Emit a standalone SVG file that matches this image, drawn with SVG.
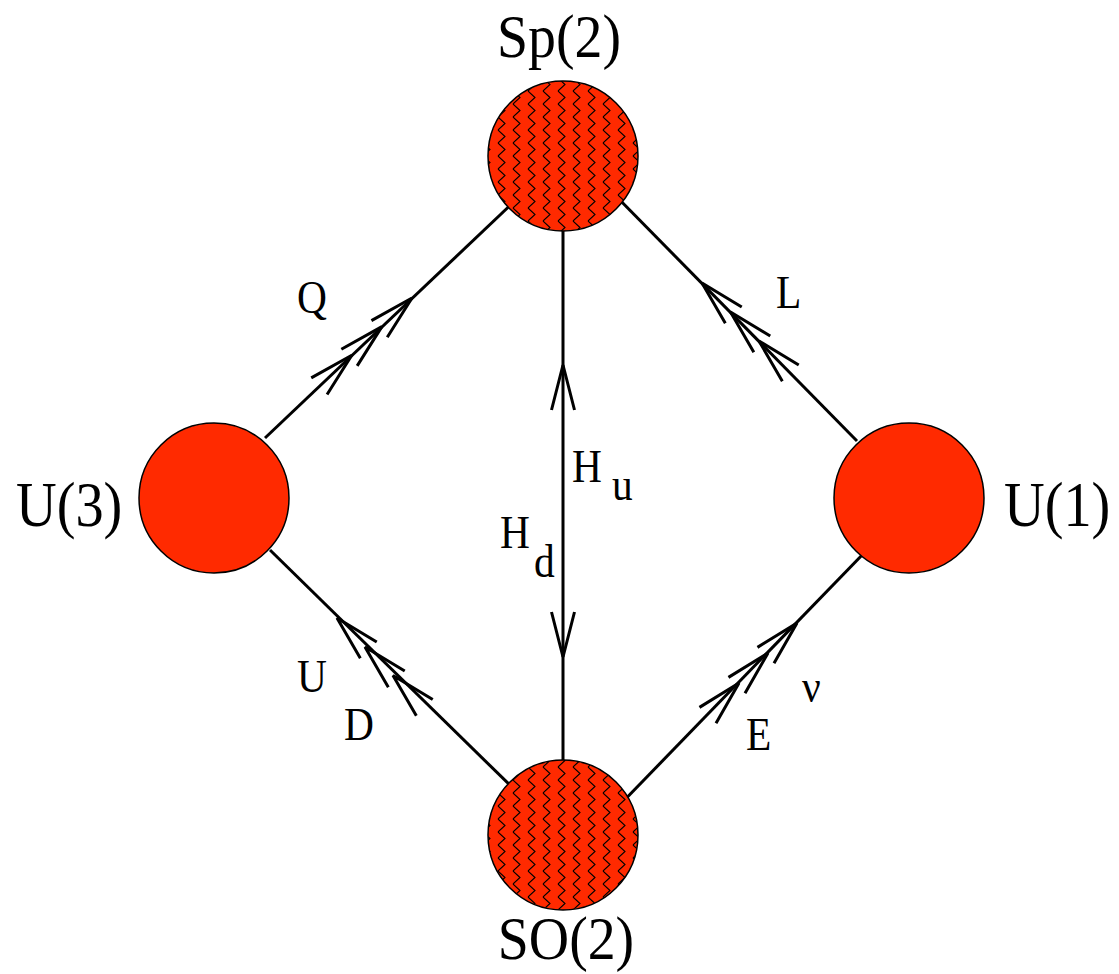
<svg xmlns="http://www.w3.org/2000/svg" xmlns:xlink="http://www.w3.org/1999/xlink" width="1119" height="974" viewBox="0 0 1119 974">
<style>
.big{font-family:"Liberation Serif","Times New Roman",serif;font-size:64px;fill:#000}
.lbl{font-family:"Liberation Serif","Times New Roman",serif;font-size:46px;fill:#000}
.edge{stroke:#000;stroke-width:3;fill:none}
.node{stroke:#000;stroke-width:1.5}
</style>
<defs>
<pattern id="zig" patternUnits="userSpaceOnUse" width="15" height="13">
<rect width="15" height="13" fill="#ff2a00"/>
<path d="M3,0 L10,6.5 L3,13" fill="none" stroke="#000" stroke-width="1.1"/>
</pattern>
<path id="chev" d="M-45,-11.5 L0,0 L-45,11.5" fill="none" stroke="#000" stroke-width="3" stroke-linejoin="miter"/>
</defs>
<rect width="1119" height="974" fill="#fff"/>
<g id="connectors">
<line class="edge" x1="563" y1="157" x2="563" y2="835"/>
<line class="edge" x1="265" y1="438" x2="520" y2="196"/>
<line class="edge" x1="857" y1="441" x2="610" y2="190"/>
<line class="edge" x1="270" y1="550" x2="520" y2="795"/>
<line class="edge" x1="610" y1="815" x2="866" y2="551"/>
<use xlink:href="#chev" transform="translate(563,365) rotate(-90)"/>
<use xlink:href="#chev" transform="translate(563,657) rotate(90)"/>
<use xlink:href="#chev" transform="translate(412,298) rotate(-43.5)"/>
<use xlink:href="#chev" transform="translate(381.9,326.6) rotate(-43.5)"/>
<use xlink:href="#chev" transform="translate(351.8,355.2) rotate(-43.5)"/>
<use xlink:href="#chev" transform="translate(702,283) rotate(-134.5)"/>
<use xlink:href="#chev" transform="translate(730.5,312) rotate(-134.5)"/>
<use xlink:href="#chev" transform="translate(759,341) rotate(-134.5)"/>
<use xlink:href="#chev" transform="translate(337,618) rotate(-134.5)"/>
<use xlink:href="#chev" transform="translate(365,647) rotate(-134.5)"/>
<use xlink:href="#chev" transform="translate(393,675.5) rotate(-134.5)"/>
<use xlink:href="#chev" transform="translate(797,623) rotate(-46)"/>
<use xlink:href="#chev" transform="translate(768,653) rotate(-46)"/>
<use xlink:href="#chev" transform="translate(739,683) rotate(-46)"/>
<text class="lbl" transform="translate(297,313) scale(0.9,1)">Q</text>
<text class="lbl" transform="translate(776,308) scale(0.9,1)">L</text>
<text class="lbl" transform="translate(572,482) scale(0.9,1)">H</text>
<text class="lbl" transform="translate(612,500) scale(0.9,1)">u</text>
<text class="lbl" transform="translate(500,548) scale(0.9,1)">H</text>
<text class="lbl" transform="translate(534,577) scale(0.9,1)">d</text>
<text class="lbl" transform="translate(297,692) scale(0.9,1)">U</text>
<text class="lbl" transform="translate(344,740) scale(0.9,1)">D</text>
<text class="lbl" transform="translate(746,750) scale(0.9,1)">E</text>
<text class="lbl" transform="translate(802,702) scale(0.9,1)">ν</text>
</g>
<g id="node-sp2">
<circle class="node" cx="563" cy="156" r="75" fill="url(#zig)"/>
<text class="big" text-anchor="middle" style="font-size:62px" transform="translate(559,57) scale(0.9,1)">Sp(2)</text>
</g>
<g id="node-so2">
<circle class="node" cx="563" cy="835" r="75" fill="url(#zig)"/>
<text class="big" text-anchor="middle" style="font-size:62px" transform="translate(566,959) scale(0.9,1)">SO(2)</text>
</g>
<g id="node-u3">
<circle class="node" cx="214" cy="498" r="75" fill="#ff2a00"/>
<text class="big" transform="translate(16,526) scale(0.88,1)">U(3)</text>
</g>
<g id="node-u1">
<circle class="node" cx="909" cy="498" r="75" fill="#ff2a00"/>
<text class="big" transform="translate(1004,526) scale(0.88,1)">U(1)</text>
</g>
</svg>
